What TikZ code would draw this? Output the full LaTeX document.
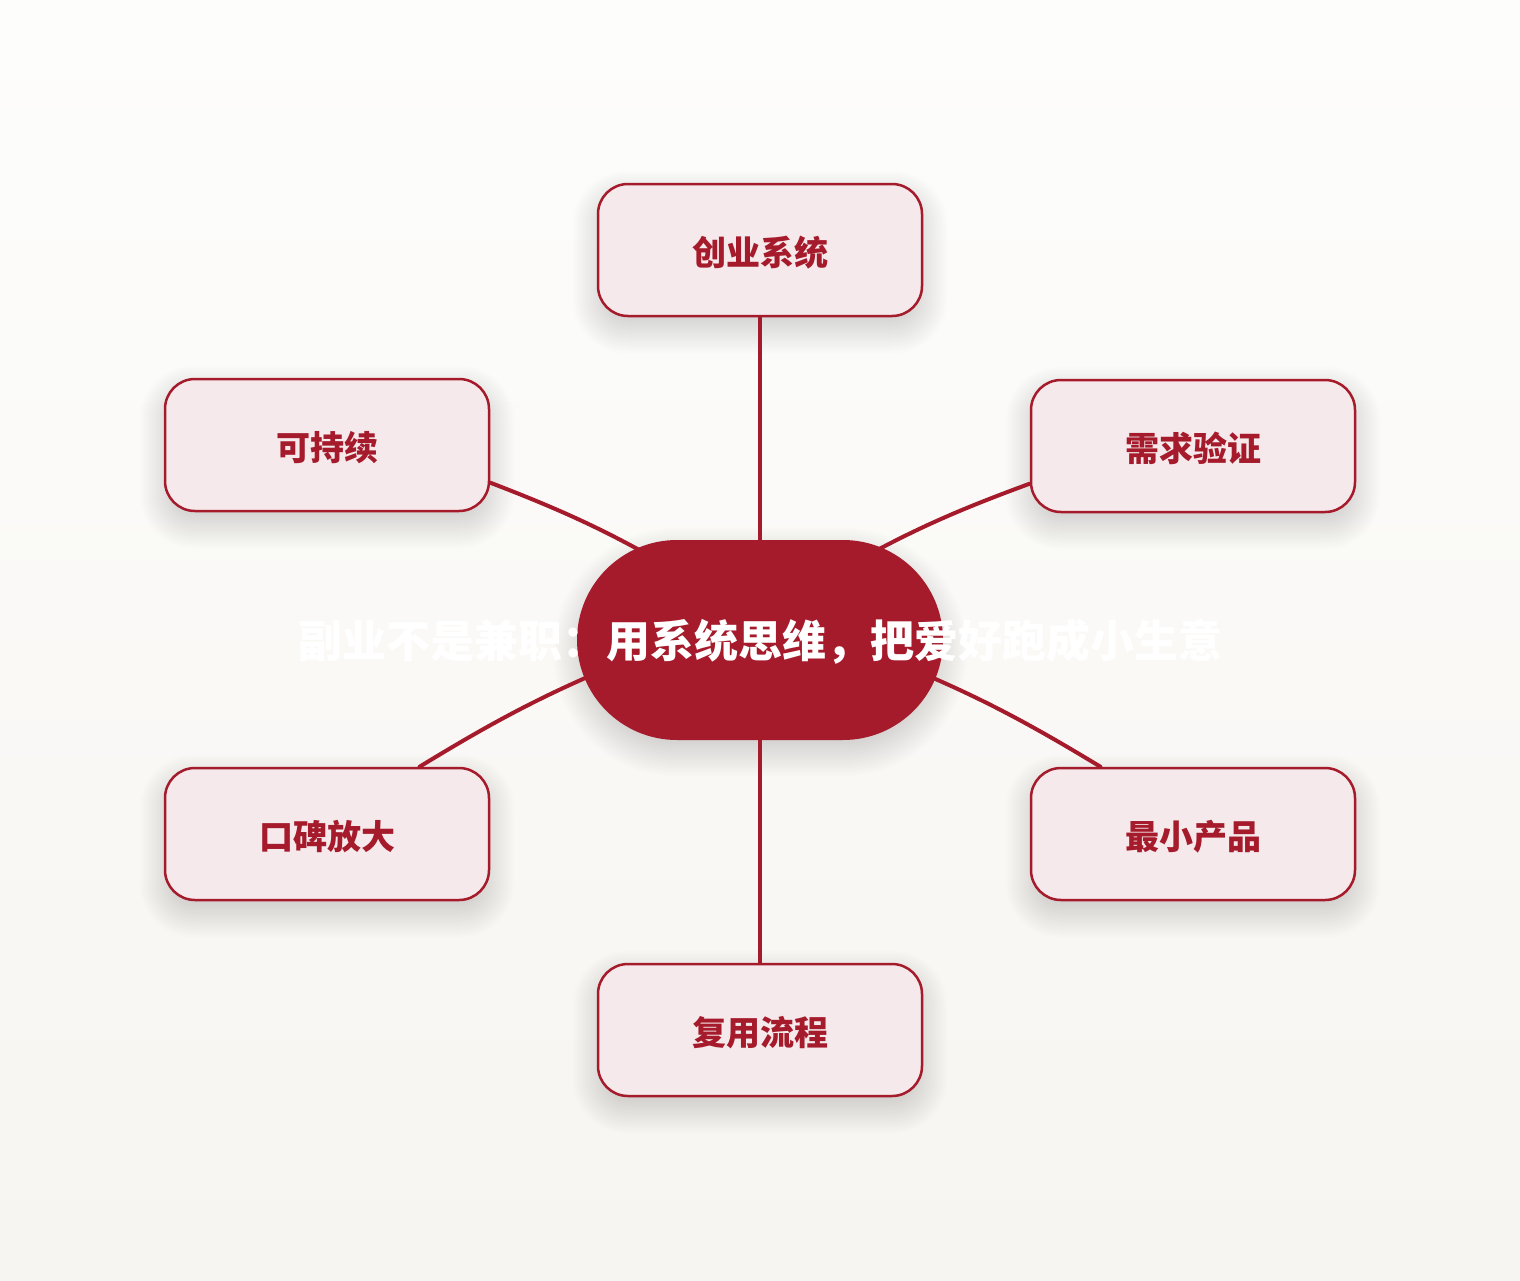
\documentclass[tikz,border=0pt]{standalone}
\usepackage{fontspec}
\newfontfamily\cjk{Noto Sans CJK SC}
\usetikzlibrary{calc}
\definecolor{dred}{HTML}{A51B2B}
\definecolor{pinkf}{HTML}{F5E9EB}
\definecolor{bgtop}{HTML}{FDFDFC}
\definecolor{bgbot}{HTML}{F7F5F1}
\pgfdeclarelayer{bglayer}
\pgfdeclarelayer{shadowlayer}
\pgfdeclarelayer{linelayer}
\pgfsetlayers{bglayer,shadowlayer,linelayer,main}
\newcommand\softshadow[2]{%
  \foreach \i in {0,...,19}{%
    \fill[black,opacity=0.0085,rounded corners={max(#2-14+2*\i,2)}]
      ($(#1.north west)+(14-2*\i,26-2*\i)$) rectangle ($(#1.south east)+(-14+2*\i,-2+2*\i)$);
  }}
\tikzset{
  sat/.style={draw=dred, line width=2.5pt, fill=pinkf, rounded corners=30pt,
    minimum width=324pt, minimum height=132pt, inner sep=0pt, text=dred,
    text height=35pt,
    font=\cjk\bfseries\fontsize{34}{40}\selectfont},
  hub/.style={fill=dred, rounded corners=100pt, minimum width=366pt,
    minimum height=200pt, inner sep=0pt, text=white, text height=41.5pt,
    font=\cjk\bfseries\fontsize{44}{52}\selectfont},
  link/.style={draw=dred, line width=4pt, line cap=round},
}
\begin{document}
\begin{tikzpicture}[x=1pt,y=-1pt]
\useasboundingbox (0,0) rectangle (1520,1280);
\begin{pgfonlayer}{bglayer}
  \shade[top color=bgtop, bottom color=bgbot] (0,0) rectangle (1520,1280);
\end{pgfonlayer}

\node[hub] (c) at (760,640) {\makebox[0pt][c]{副业不是兼职：用系统思维，把爱好跑成小生意}};
\node[sat] (tp) at (760,250) {创业系统};
\node[sat] (ur) at (1193,446) {需求验证};
\node[sat] (lr) at (1193,834) {最小产品};
\node[sat] (bt) at (760,1030) {复用流程};
\node[sat] (ll) at (327,834) {口碑放大};
\node[sat] (ul) at (327,445) {可持续};

\coordinate (cul) at ($(c.center)+(-60,-55)$);
\coordinate (cur) at ($(c.center)+(60,-58)$);
\coordinate (clr) at ($(c.center)+(100,8)$);
\coordinate (cll) at ($(c.center)+(-100,7)$);

\begin{pgfonlayer}{shadowlayer}
  \softshadow{c}{100}
  \softshadow{tp}{30}
  \softshadow{ur}{30}
  \softshadow{lr}{30}
  \softshadow{bt}{30}
  \softshadow{ll}{30}
  \softshadow{ul}{30}
\end{pgfonlayer}

\begin{pgfonlayer}{linelayer}
  \draw[link] (ul.-13.5) to[bend left=5] (cul);
  \draw[link] (ur.193.8) to[bend right=5] (cur);
  \draw[link] (lr.144.2) to[bend right=5] (clr);
  \draw[link] (ll.36.4) to[bend left=5] (cll);
  \draw[link] (tp.south) -- (c.center);
  \draw[link] (bt.north) -- (c.center);
\end{pgfonlayer}
\end{tikzpicture}
\end{document}
